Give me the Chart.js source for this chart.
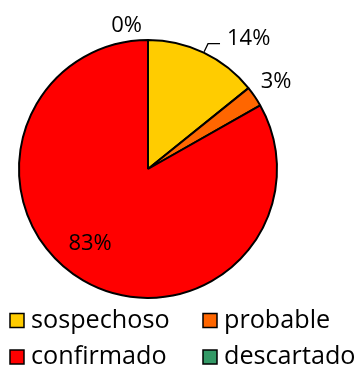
<!DOCTYPE html>
<html>
<head>
<meta charset="utf-8">
<script src="https://cdn.jsdelivr.net/npm/chart.js@4/dist/chart.umd.min.js"></script>
<style>
  html, body { margin: 0; padding: 0; background: #fff; }
  #wrap { width: 359px; height: 368px; position: relative; }
</style>
</head>
<body>
<div id="wrap"><canvas id="chart" width="359" height="368"></canvas></div>
<script>
// data
const categories = ["sospechoso", "probable", "confirmado", "descartado"];
const caseCounts = [55, 10, 322, 0];
const sliceColors = ["#FFCC00", "#FF6600", "#FF0000", "#339966"];

// label placement per slice: distance as a fraction of the radius, angle nudge (deg), leader line
const labelDist = [1.0, 1.2, 0.73, 1.12];
const labelNudge = [0, 0, 7.7, -8.5];
const labelLeader = [true, false, false, false];

const FONT = '"Open Sans", "Noto Sans", sans-serif';
const total = caseCounts.reduce((a, b) => a + b, 0);

const pctLabels = {
    id: "pctLabels",
    afterDatasetsDraw(chart) {
        const ctx = chart.ctx;
        const arcs = chart.getDatasetMeta(0).data;
        ctx.save();
        ctx.font = "22px " + FONT;
        ctx.fillStyle = "#000";
        ctx.strokeStyle = "#000";
        ctx.lineWidth = 1.3;
        arcs.forEach((arc, i) => {
            const { x, y, startAngle, endAngle, outerRadius } = arc.getProps(
                ["x", "y", "startAngle", "endAngle", "outerRadius"], true);
            const mid = (startAngle + endAngle) / 2;
            const text = Math.round(caseCounts[i] / total * 100) + "%";
            if (labelLeader[i]) {
                const x1 = x + Math.cos(mid) * (outerRadius + 1);
                const y1 = y + Math.sin(mid) * (outerRadius + 1);
                const x2 = x + Math.cos(mid) * (outerRadius + 10);
                const y2 = y + Math.sin(mid) * (outerRadius + 10);
                ctx.beginPath();
                ctx.moveTo(x1, y1);
                ctx.lineTo(x2, y2);
                ctx.lineTo(x2 + 12, y2);
                ctx.stroke();
                ctx.textAlign = "left";
                ctx.textBaseline = "alphabetic";
                ctx.fillText(text, x2 + 19, y2 + 1);
            } else {
                const a = mid + labelNudge[i] * Math.PI / 180;
                const r = outerRadius * labelDist[i];
                ctx.textAlign = "center";
                ctx.textBaseline = "middle";
                ctx.fillText(text, x + Math.cos(a) * r, y + Math.sin(a) * r);
            }
        });
        ctx.restore();
    },
};

const gridLegend = {
    id: "gridLegend",
    afterDraw(chart) {
        const ctx = chart.ctx;
        const colX = [10, 203];
        const rowBase = [327.5, 364];
        ctx.save();
        ctx.font = "25.2px " + FONT;
        ctx.textAlign = "left";
        ctx.textBaseline = "alphabetic";
        categories.forEach((name, i) => {
            const bx = colX[i % 2];
            const by = rowBase[Math.floor(i / 2)];
            ctx.fillStyle = sliceColors[i];
            ctx.fillRect(bx, by - 14, 14, 14);
            ctx.strokeStyle = "#000";
            ctx.lineWidth = 1.5;
            ctx.strokeRect(bx, by - 14, 14, 14);
            ctx.fillStyle = "#000";
            ctx.fillText(name, bx + 21, by);
        });
        ctx.restore();
    },
};

new Chart(document.getElementById("chart"), {
    type: "pie",
    data: {
        labels: categories,
        datasets: [{
            data: caseCounts,
            backgroundColor: sliceColors,
            borderColor: "#000",
            borderWidth: 2,
        }],
    },
    options: {
        responsive: false,
        animation: false,
        layout: { padding: { left: 18, right: 81, top: 39, bottom: 69 } },
        plugins: {
            legend: { display: false },
            tooltip: { enabled: false },
        },
    },
    plugins: [pctLabels, gridLegend],
});
</script>
</body>
</html>
